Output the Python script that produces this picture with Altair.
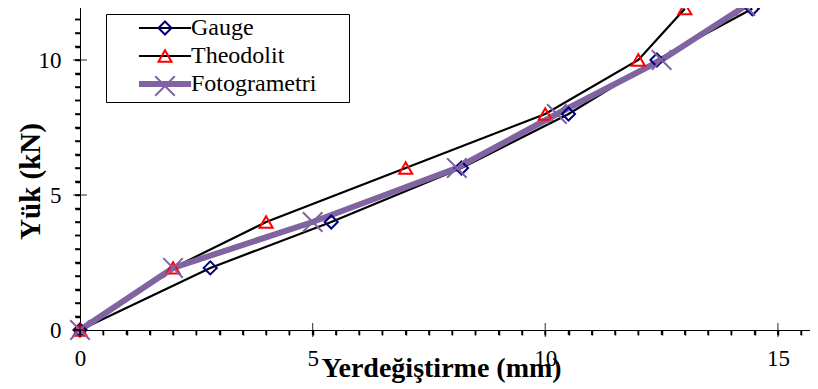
import altair as alt
import pandas as pd

# ---- data ----
series_names = ["Gauge", "Theodolit", "Fotogrametri"]
gauge_x = [0, 2.8, 5.4, 8.2, 10.5, 12.4, 14.45]
gauge_y = [0, 2.3, 4.0, 6.0, 8.0, 10.0, 11.9]
theo_x = [0, 2.0, 4.0, 7.0, 10.0, 12.0, 13.0]
theo_y = [0, 2.3, 4.0, 6.0, 8.0, 10.0, 11.9]
foto_x = [0, 2.0, 5.0, 8.1, 10.25, 12.5, 14.3]
foto_y = [0, 2.3, 4.0, 6.0, 8.0, 10.0, 12.0]

x_major = [0, 5, 10, 15]
y_major = [0, 5, 10]
x_minor = [i * 0.5 for i in range(32)]
y_minor = [i * 0.5 for i in range(25)]

line_colors = ["black", "black", "#8064A2"]
marker_colors = ["#000080", "#FF0000", "#8064A2"]
marker_shapes = ["diamond", "triangle-up", "M-1.5,-1.5L1.5,1.5M-1.5,1.5L1.5,-1.5"]

rows = []
for name, xs, ys in [("Gauge", gauge_x, gauge_y), ("Theodolit", theo_x, theo_y), ("Fotogrametri", foto_x, foto_y)]:
    for i, (a, b) in enumerate(zip(xs, ys)):
        rows.append({"series": name, "x": a, "y": b, "i": i})
df = pd.DataFrame(rows)

W, H = 730, 324
FONT = "Liberation Serif"
xscale = alt.Scale(domain=[0, 15.69], nice=False, zero=False)
yscale = alt.Scale(domain=[0, 12], nice=False, zero=False)

xaxis = alt.Axis(
    values=x_minor,
    labelExpr="datum.value % 5 === 0 ? format(datum.value, 'd') : ''",
    ticks=True, tickSize=5, tickWidth=1.5, tickColor="black", tickOpacity=1,
    labelPadding=12, labelFlush=False, labelOverlap=False,
    title="Yerdeğiştirme (mm)", titleX=361, titleY=46,
    titleAlign="center", titleBaseline="alphabetic",
)
yaxis = alt.Axis(
    values=y_minor,
    labelExpr="datum.value % 5 === 0 ? format(datum.value, 'd') : ''",
    ticks=True, tickSize=5, tickWidth=1.5, tickColor="black", tickOpacity=1,
    labelPadding=14, labelFlush=False, labelOverlap=False,
    title="Yük (kN)", titleX=-41, titleY=175, titleAngle=270, titleFontSize=29,
    titleAlign="center", titleBaseline="alphabetic",
)

leg_common = dict(
    orient="none", legendX=26, legendY=8, title=None, padding=2,
    symbolSize=170, symbolOffset=45, labelOffset=14,
    labelFont=FONT, labelFontSize=24, labelColor="black", rowPadding=4,
    labelLimit=400,
)
legA = alt.Legend(
    **leg_common, symbolType="M-4,0H4", fillColor="white", zindex=1,
    symbolStrokeWidth={"expr": "datum.value === 'Fotogrametri' ? 6 : 2"},
)
legB = alt.Legend(**leg_common, symbolStrokeWidth=2, labelOpacity=0,
                  labelExpr="datum.label + 'nnt'", strokeColor="black", zindex=2)

base = alt.Chart(df)
lines = base.mark_line().encode(
    x=alt.X("x:Q", scale=xscale, axis=xaxis),
    y=alt.Y("y:Q", scale=yscale, axis=yaxis),
    color=alt.Color("series:N", scale=alt.Scale(domain=series_names, range=line_colors), legend=legA),
    strokeWidth=alt.condition(alt.datum.series == "Fotogrametri", alt.value(6), alt.value(2.2)),
    order="i:Q",
)
points = base.mark_point(filled=False, size=170, strokeWidth=2, opacity=1).encode(
    x=alt.X("x:Q", scale=xscale, axis=xaxis),
    y=alt.Y("y:Q", scale=yscale, axis=yaxis),
    color=alt.Color("series:N", scale=alt.Scale(domain=series_names, range=marker_colors), legend=legB),
    shape=alt.Shape("series:N", scale=alt.Scale(domain=series_names, range=marker_shapes), legend=legB),
)
# major ticks crossing the axes
xt = alt.Chart(pd.DataFrame({"v": x_major})).mark_tick(
    orient="vertical", size=14, thickness=1.2, color="black", clip=False
).encode(
    x=alt.X("v:Q", scale=xscale, axis=xaxis),
    y=alt.Y(datum=0, scale=yscale, axis=yaxis),
)
yt = alt.Chart(pd.DataFrame({"v": y_major})).mark_tick(
    orient="horizontal", size=14, thickness=1.2, color="black", clip=False
).encode(
    y=alt.Y("v:Q", scale=yscale, axis=yaxis),
    x=alt.X(datum=0, scale=xscale, axis=xaxis),
)
# minor ticks outside the axes
xm = alt.Chart(pd.DataFrame({"v": x_minor})).mark_rule(
    color="black", strokeWidth=1.5, y2Offset=5, clip=False
).encode(
    x=alt.X("v:Q", scale=xscale, axis=xaxis),
    y=alt.Y(datum=0, scale=yscale, axis=yaxis),
    y2=alt.Y2(datum=0),
)
ym = alt.Chart(pd.DataFrame({"v": y_minor})).mark_rule(
    color="black", strokeWidth=1.5, x2Offset=-5, clip=False
).encode(
    y=alt.Y("v:Q", scale=yscale, axis=yaxis),
    x=alt.X(datum=0, scale=xscale, axis=xaxis),
    x2=alt.X2(datum=0),
)
top = alt.Chart(pd.DataFrame({"v": [12]})).mark_rule(color="black", strokeWidth=1).encode(
    y=alt.Y("v:Q", scale=yscale, axis=yaxis),
)

chart = alt.layer(lines, points, xt, yt, xm, ym, top).resolve_scale(
    color="independent", shape="independent"
).properties(
    width=W, height=H,
    autosize=alt.AutoSizeParams(type="none"),
    padding={"left": 72, "top": -2, "right": 0, "bottom": 59},
).configure_view(stroke=None).configure_axis(
    grid=False, domainColor="black", tickColor="black", domainWidth=1,
    labelFont=FONT, labelFontSize=23, labelColor="black",
    titleFont=FONT, titleFontSize=28, titleFontWeight="bold", titleColor="black",
)

chart.save("out.html", embed_options={"renderer": "svg", "actions": False})
